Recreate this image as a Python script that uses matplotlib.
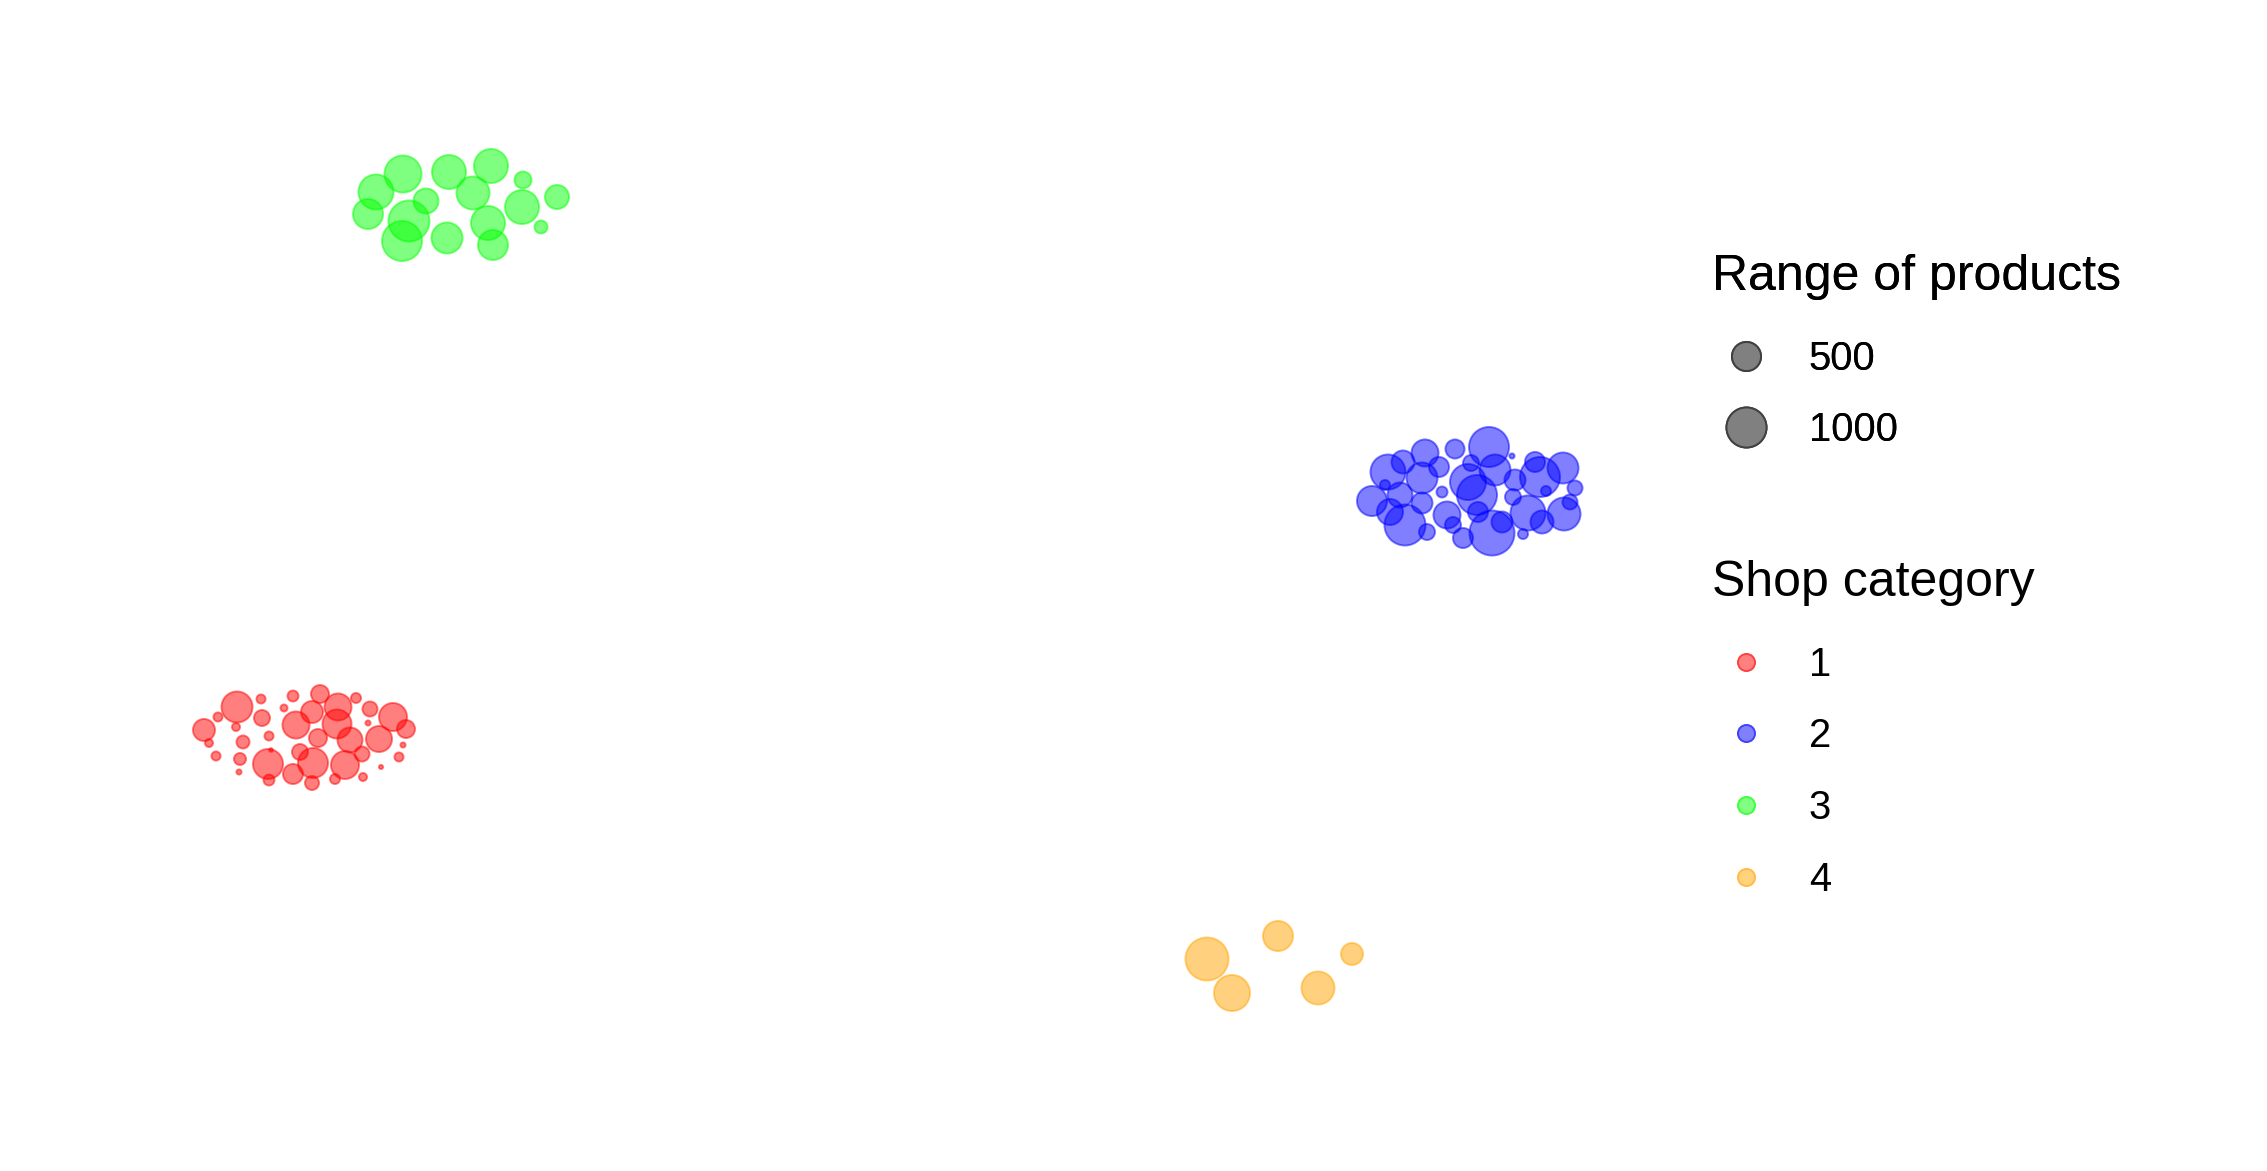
import numpy as np
import matplotlib.pyplot as plt
from matplotlib.lines import Line2D
from matplotlib.colors import to_rgb

plt.rcParams['font.family'] = ['Liberation Sans', 'DejaVu Sans']

W, H, DPI = 2267, 1171, 100
EDGE_LW = 1.4

# shop locations and range of products, one block per shop category
cat1_x = [204, 209, 218, 237, 236, 261, 262, 243, 269, 216, 240, 239, 268, 269, 293, 284, 296,
          320, 312, 338, 337, 318, 300, 313, 293, 312, 350, 345, 362, 335, 363, 356, 370, 368,
          393, 379, 406, 403, 399, 381, 271]
cat1_y = [730, 743, 717, 707, 727, 699, 718, 742, 736, 756, 759, 772, 764, 780, 696, 708, 725,
          694, 712, 707, 724, 738, 752, 763, 774, 783, 740, 765, 754, 779, 777, 698, 709, 723,
          717, 739, 729, 745, 757, 767, 750]
cat1_products = [271, 22, 31, 578, 22, 31, 130, 79, 31, 31, 65, 5, 539, 52, 52, 15, 428,
                 172, 271, 428, 500, 172, 130, 539, 219, 95, 361, 463, 112, 41, 22, 41, 112, 5,
                 463, 394, 172, 5, 31, 2, 1]

cat2_x = [1372, 1388, 1403, 1425, 1439, 1422, 1385, 1400, 1390, 1405, 1422, 1427, 1442, 1447,
          1455, 1471, 1468, 1477, 1453, 1463, 1478, 1489, 1495, 1512, 1492, 1502, 1515, 1513,
          1528, 1523, 1535, 1540, 1563, 1575, 1546, 1542, 1564, 1570]
cat2_y = [501, 472, 462, 453, 467, 478, 485, 495, 512, 525, 503, 532, 492, 515,
          449, 463, 482, 495, 525, 538, 512, 447, 470, 456, 533, 522, 480, 497,
          513, 534, 462, 477, 468, 488, 491, 522, 514, 502]
cat2_products = [539, 752, 300, 428, 219, 578, 41, 361, 394, 1054, 244, 130, 52, 428,
                 195, 130, 798, 1000, 130, 219, 219, 1000, 578, 5, 1284, 244, 244, 130,
                 752, 41, 219, 1000, 578, 112, 41, 300, 662, 112]

cat3_x = [376, 403, 368, 426, 409, 402, 449, 491, 473, 447, 488, 493, 523, 522, 557, 541]
cat3_y = [192, 174, 214, 201, 221, 241, 172, 166, 193, 238, 223, 245, 180, 207, 197, 227]
cat3_products = [752, 847, 539, 361, 1054, 1000, 706, 706, 662, 578, 706, 539, 150, 706, 330, 79]

cat4_x = [1207, 1232, 1278, 1318, 1352]
cat4_y = [959, 993, 936, 988, 954]
cat4_products = [1166, 798, 539, 662, 271]

categories = ['1', '2', '3', '4']
cat_colors = ['#FF0000', '#0000FF', '#00FF00', '#FFA500']
size_breaks = [500, 1000]


def dot_px(products):
    # ggplot-like area scale: diameter grows with sqrt(products)
    return 4.43 + 1.188 * np.sqrt(np.asarray(products, dtype=float))


def dot_pt(products):
    return dot_px(products) * 72 / DPI - EDGE_LW


def on_white(col, a):
    c = np.array(to_rgb(col))
    return tuple(a * c + (1 - a) * 1.0)


fig = plt.figure(figsize=(W / DPI, H / DPI), dpi=DPI)
ax = fig.add_axes([0, 0, 1, 1])
ax.set_xlim(0, W)
ax.set_ylim(H, 0)
ax.axis('off')

groups = [(cat1_x, cat1_y, cat1_products), (cat2_x, cat2_y, cat2_products),
          (cat3_x, cat3_y, cat3_products), (cat4_x, cat4_y, cat4_products)]
for (gx, gy, gp), col in zip(groups, cat_colors):
    ax.scatter(gx, gy, s=dot_pt(gp) ** 2, color=col, alpha=0.5, linewidths=EDGE_LW)

leg_kw = dict(loc='upper left', frameon=False, fontsize=28.8, title_fontsize=36,
              handlelength=1.72, handletextpad=0.7, labelspacing=0.84, borderpad=0,
              borderaxespad=0, alignment='left')

# legend keys: flat colours that look like the half-transparent points on white
size_handles = [Line2D([], [], ls='', marker='o', markersize=dot_pt(v),
                       markerfacecolor=on_white('black', 0.5),
                       markeredgecolor=on_white('black', 0.75),
                       markeredgewidth=EDGE_LW) for v in size_breaks]
leg1 = fig.legend(size_handles, [str(v) for v in size_breaks], title='Range of products',
                  bbox_to_anchor=(1712 / W, 1 - 254 / H), **leg_kw)
leg1._legend_box.sep = 28.7

cat_handles = [Line2D([], [], ls='', marker='o', markersize=19 * 72 / DPI - EDGE_LW,
                      markerfacecolor=on_white(c, 0.5), markeredgecolor=on_white(c, 0.75),
                      markeredgewidth=EDGE_LW) for c in cat_colors]
leg2 = fig.legend(cat_handles, categories, title='Shop category',
                  bbox_to_anchor=(1712 / W, 1 - 560 / H), **leg_kw)
leg2._legend_box.sep = 28.7
fig.add_artist(leg1)

fig.savefig('out.png', dpi=DPI, facecolor='white')
